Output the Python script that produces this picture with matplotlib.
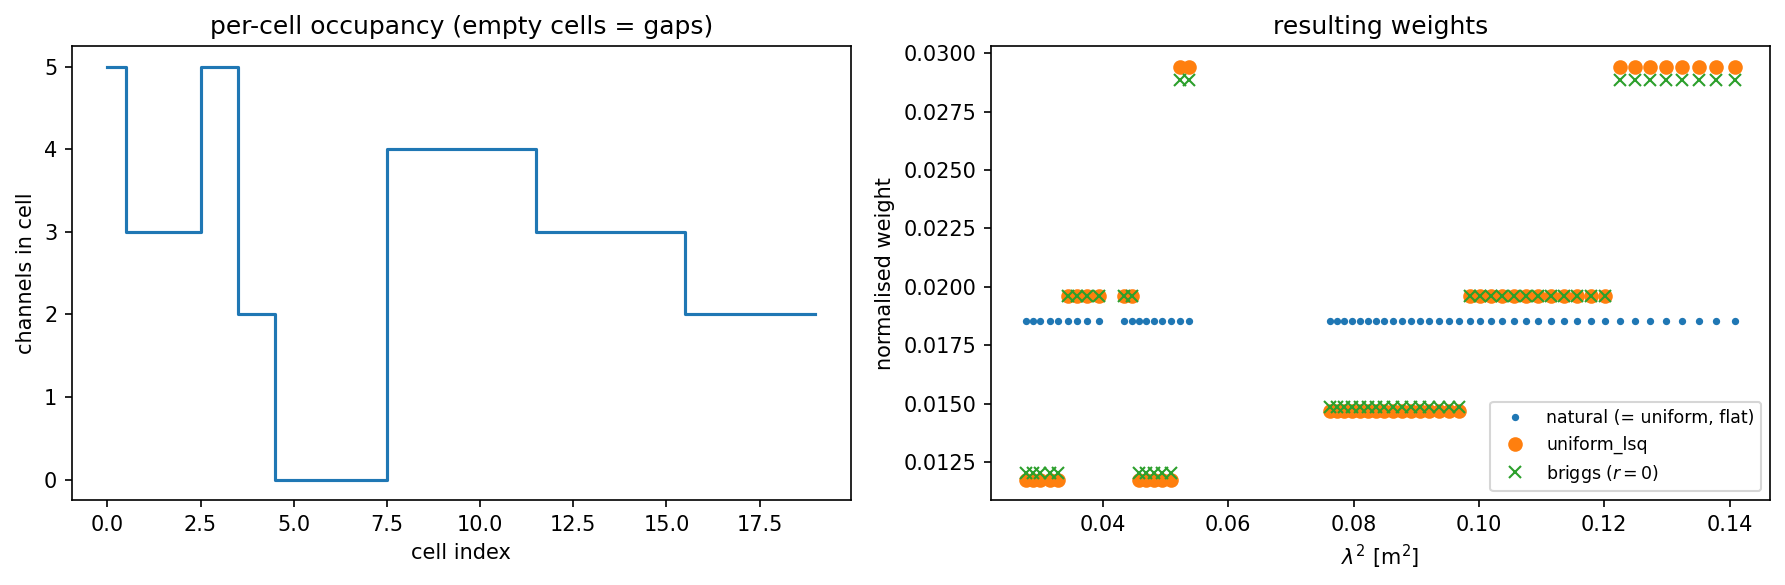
import numpy as np
import matplotlib
matplotlib.use("Agg")
import matplotlib.pyplot as plt

# ------------------------------------------------
# data
# ------------------------------------------------
cell_index = np.arange(20)
channels_in_cell = [5, 3, 3, 5, 2, 0, 0, 0, 4, 4, 4, 4, 3, 3, 3, 3, 2, 2, 2, 2]

# lambda^2 of every channel (three bands)
lam2 = [
    0.0278, 0.0289, 0.0300, 0.0315, 0.0328, 0.0344, 0.0359, 0.0375, 0.0393,
    0.0434, 0.0446, 0.0457, 0.0469, 0.0481, 0.0494, 0.0508, 0.0523, 0.0537,
    0.0762, 0.0773, 0.0784, 0.0797, 0.0811, 0.0823, 0.0836, 0.0849, 0.0863,
    0.0877, 0.0891, 0.0906, 0.0921, 0.0937, 0.0952, 0.0969, 0.0985, 0.1002,
    0.1020, 0.1037, 0.1056, 0.1075, 0.1094, 0.1115, 0.1136, 0.1156, 0.1179,
    0.1201, 0.1225, 0.1249, 0.1273, 0.1298, 0.1324, 0.1351, 0.1379, 0.1408,
]

# occupancy of the cell each channel falls in
chan_occ = ([5] * 5 + [3] * 4
            + [3] * 2 + [5] * 5 + [2] * 2
            + [4] * 16 + [3] * 12 + [2] * 8)

natural_w = [0.01852] * len(lam2)
lsq_level = {5: 0.01176, 4: 0.01471, 3: 0.01961, 2: 0.02941}
briggs_level = {5: 0.01203, 4: 0.01488, 3: 0.01961, 2: 0.02884}
uniform_lsq_w = [lsq_level[n] for n in chan_occ]
briggs_w = [briggs_level[n] for n in chan_occ]

# ------------------------------------------------
# plot
# ------------------------------------------------
fig, (ax1, ax2) = plt.subplots(1, 2, figsize=(11.9, 3.9), dpi=150)
fig.subplots_adjust(left=0.0403, right=0.9916, bottom=0.145, top=0.921, wspace=0.18)

ax1.step(cell_index, channels_in_cell, where="mid")
ax1.set_xlabel("cell index")
ax1.set_ylabel("channels in cell")
ax1.set_title("per-cell occupancy (empty cells = gaps)")

ax2.plot(lam2, natural_w, "o", ms=2.5, label="natural (= uniform, flat)")
ax2.plot(lam2, uniform_lsq_w, "o", ms=6, label="uniform_lsq")
ax2.plot(lam2, briggs_w, "x", ms=6, label="briggs ($r=0$)")
ax2.set_xlabel(r"$\lambda^2$ [m$^2$]")
ax2.set_ylabel("normalised weight")
ax2.set_title("resulting weights")
ax2.legend(fontsize="small", loc="lower right")

fig.savefig("out.png")
